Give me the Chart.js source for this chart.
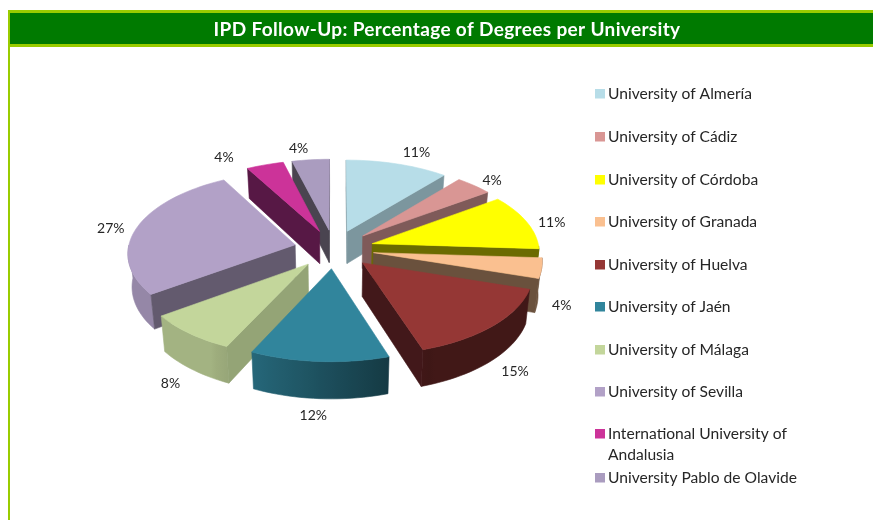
<!DOCTYPE html>
<html><head><meta charset="utf-8">
<style>html,body{margin:0;padding:0;background:#fff}#w{width:873px;height:520px;position:relative}</style>
<script src="https://cdn.jsdelivr.net/npm/chart.js@4"></script></head>
<body><div id="w"><canvas id="c" width="873" height="520"></canvas></div>
<script>
const titleText = 'IPD Follow-Up: Percentage of Degrees per University';
const universities = ['University of Almería','University of Cádiz','University of Córdoba','University of Granada','University of Huelva','University of Jaén','University of Málaga','University of Sevilla','International University of Andalusia','University Pablo de Olavide'];
const legendLines = [['University of Almería'],['University of Cádiz'],['University of Córdoba'],['University of Granada'],['University of Huelva'],['University of Jaén'],['University of Málaga'],['University of Sevilla'],['International University of','Andalusia'],['University Pablo de Olavide']];
const percentages = [11,4,11,4,15,12,8,27,4,4];
const topColors = ['#b7dde8','#d99694','#ffff00','#fac090','#953735','#31859c','#c3d69b','#b2a1c7','#cc3399','#aa9cbf'];
const sideColors = ['#7c969e','#7f5a59','#6b6b00','#6a513d','#42181a','#16383f','#94a476','#635a6e','#571845','#4a4450'];
const explode = [40,40,40,40,40,40,40,40,40,40];
const labelNudgeX = [19,18,25,20,22,-6,-19,-26,-41,-12];
const labelNudgeY = [-11,-5,1,37,46,54,50,1,-7,-11];
const legendY = [93.5,136.5,179.5,221.5,264.5,306.5,349.5,391.5,433.5,477.5];

const squash=.483, persp=.000546, depth=33, bottomShrink=.98;
const INK='#262626', LIME='#99cc00', GREEN='#007a00', FONT='Lato';
function proj(el,X,Y,bottom){
  const f=1/(1-persp*Y), b=bottom?bottomShrink:1;
  return [el.x+X*f*b, el.y+Y*squash*f+(bottom?depth*f:0)];
}
function mix(hex,t){
  const n=parseInt(hex.slice(1),16);
  return `rgb(${(n>>16)*t|0},${((n>>8)&255)*t|0},${(n&255)*t|0})`;
}
function wallShade(clock){
  if(clock<160) return .44;
  if(clock<210) return .42+(clock-160)/50*.4;
  return .84;
}
function poly(ctx,pts,fill){
  ctx.beginPath();pts.forEach((p,i)=>i?ctx.lineTo(p[0],p[1]):ctx.moveTo(p[0],p[1]));ctx.closePath();
  ctx.fillStyle=fill;ctx.strokeStyle=fill;ctx.lineWidth=.6;ctx.fill();ctx.stroke();
}
const pie3d={id:'pie3d',
  beforeDraw(chart){
    const c=chart.ctx;
    c.fillStyle='#fff';c.fillRect(0,0,873,520);
    c.fillStyle=LIME;c.fillRect(8,10,865,37);c.fillRect(8,10,2,510);
    c.fillStyle=GREEN;c.fillRect(10,13,863,31);
    c.fillStyle='#fff';c.font='bold 19px '+FONT;c.textAlign='center';c.textBaseline='middle';
    c.letterSpacing='0.35px';
    c.fillText(titleText,447,29.5);
    c.letterSpacing='0px';
  },
  beforeDatasetsDraw(chart){
    const ctx=chart.ctx, arcs=chart.getDatasetMeta(0).data;
    const geo=arcs.map((el,i)=>{
      const s=el.startAngle,e=el.endAngle,m=(s+e)/2,off=el.options.offset,R=el.outerRadius;
      const ox=Math.cos(m)*off, oy=Math.sin(m)*off, rim=[];
      const n=Math.max(2,Math.ceil((e-s)/(Math.PI/90)));
      for(let j=0;j<=n;j++){const a=s+(e-s)*j/n;rim.push([ox+Math.cos(a)*R,oy+Math.sin(a)*R,a]);}
      return {el,i,m,ox,oy,R,rim,sortY:oy+Math.sin(m)*R*.5};
    }).sort((a,b)=>a.sortY-b.sortY);
    geo.forEach(g=>{
      const {el,i,rim,ox,oy}=g, top=p=>proj(el,p[0],p[1],false), bot=p=>proj(el,p[0],p[1],true);
      const A=proj(el,ox,oy,false), Ab=proj(el,ox,oy,true);
      const mid=top(rim[rim.length>>1]);
      // curved wall: only the part that faces the viewer
      const front=rim.filter(r=>Math.sin(r[2])>0);
      if(front.length>1){
        const pts=[...front.map(top),...front.slice().reverse().map(bot)];
        const xs=front.map(r=>top(r)[0]), x0=Math.min(...xs), x1=Math.max(...xs);
        let fill=mix(topColors[i],wallShade(90));
        if(x1-x0>1){
          fill=ctx.createLinearGradient(x0,0,x1,0);
          front.forEach((r,j)=>{
            const clock=((r[2]+Math.PI/2)*180/Math.PI+360)%360;
            fill.addColorStop(Math.min(1,Math.max(0,(xs[j]-x0)/(x1-x0))),mix(topColors[i],wallShade(clock)));
          });
        }
        poly(ctx,pts,fill);
      }
      [rim[0],rim[rim.length-1]].forEach(r=>{
        const P=top(r),ex=P[0]-A[0],ey=P[1]-A[1];
        let nx=-ey,ny=ex; if(nx*(mid[0]-A[0])+ny*(mid[1]-A[1])>0){nx=-nx;ny=-ny;}
        if(ny>0) poly(ctx,[A,P,bot(r),Ab],sideColors[i]);
      });
      poly(ctx,[A,...rim.map(top)],topColors[i]);
    });
    return false;
  },
  afterDraw(chart){
    const c=chart.ctx, arcs=chart.getDatasetMeta(0).data;
    c.fillStyle=INK;c.font='14px '+FONT;c.textAlign='center';c.textBaseline='middle';
    arcs.forEach((el,i)=>{
      const m=(el.startAngle+el.endAngle)/2,d=el.options.offset+el.outerRadius;
      const p=proj(el,Math.cos(m)*d,Math.sin(m)*d,false);
      c.fillText(percentages[i]+'%',p[0]+labelNudgeX[i],p[1]+labelNudgeY[i]);
    });
    c.textAlign='left';c.font='15.6px '+FONT;
    universities.forEach((u,i)=>{
      c.fillStyle=topColors[i];c.fillRect(595,Math.round(legendY[i])-5,10,9.5);
      c.fillStyle=INK;
      legendLines[i].forEach((t,k)=>c.fillText(t,608,legendY[i]+k*21));
    });
  }
};
new Chart(document.getElementById('c'),{
  type:'pie',
  data:{labels:universities,datasets:[{data:percentages,backgroundColor:topColors,offset:explode,borderWidth:0,radius:167}]},
  options:{responsive:false,animation:false,
    layout:{padding:{left:234,right:439,top:149,bottom:171}},
    plugins:{legend:{display:false},title:{display:false},tooltip:{enabled:false}}},
  plugins:[pie3d]
});
</script></body></html>
